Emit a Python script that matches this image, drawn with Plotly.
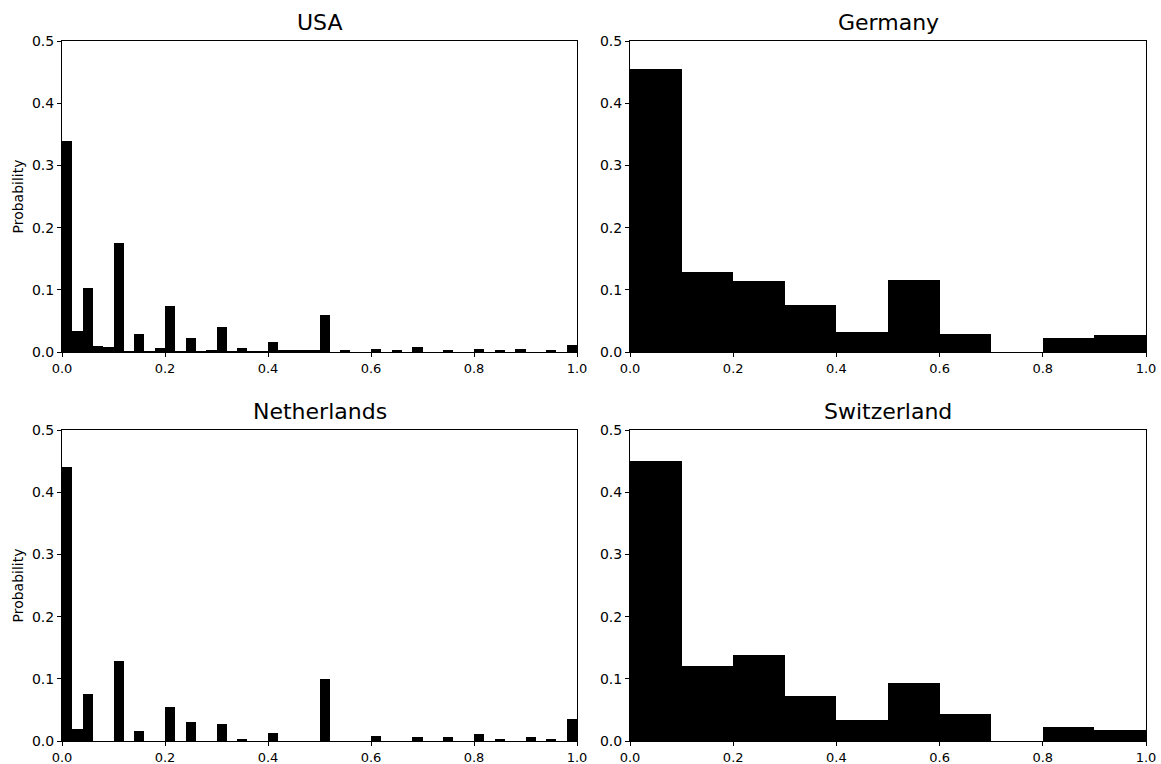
import plotly.graph_objects as go

# ---- data ----
fine_edges_start = [round(i * 0.02, 2) for i in range(50)]
coarse_edges_start = [round(i * 0.1, 1) for i in range(10)]

usa = [0.340, 0.033, 0.103, 0.010, 0.0085, 0.175, 0.001, 0.029, 0.001, 0.007,
       0.0735, 0.001, 0.022, 0.001, 0.003, 0.040, 0.001, 0.006, 0.001, 0.001,
       0.0156, 0.002, 0.002, 0.002, 0.002, 0.059, 0.0, 0.002, 0.0, 0.0,
       0.0055, 0.0, 0.002, 0.0, 0.0085, 0.0, 0.0, 0.003, 0.0, 0.0,
       0.0055, 0.0, 0.002, 0.0, 0.0055, 0.0, 0.0, 0.002, 0.0, 0.012]

netherlands = [0.440, 0.020, 0.076, 0.0, 0.0, 0.128, 0.0, 0.0166, 0.0, 0.0,
               0.055, 0.0, 0.031, 0.0, 0.0, 0.0275, 0.0, 0.004, 0.0, 0.0,
               0.013, 0.0, 0.0, 0.0, 0.0, 0.100, 0.0, 0.0, 0.0, 0.0,
               0.008, 0.0, 0.0, 0.0, 0.0065, 0.0, 0.0, 0.0065, 0.0, 0.0,
               0.011, 0.0, 0.002, 0.0, 0.0, 0.0065, 0.0, 0.002, 0.0, 0.036]

germany = [0.455, 0.1286, 0.114, 0.0756, 0.032, 0.116, 0.029, 0.0, 0.0225, 0.027]
switzerland = [0.450, 0.1206, 0.138, 0.072, 0.034, 0.093, 0.043, 0.0, 0.0225, 0.018]

titles = ["USA", "Germany", "Netherlands", "Switzerland"]
x_ticks = [0.0, 0.2, 0.4, 0.6, 0.8, 1.0]
y_ticks = [0.0, 0.1, 0.2, 0.3, 0.4, 0.5]

W, H = 1161, 764
FONT = "DejaVu Sans"

# panel pixel boxes (left, right, top, bottom)
boxes = [(62, 577, 41, 352), (630, 1146, 41, 352),
         (62, 577, 430, 741), (630, 1146, 430, 741)]

series = [(fine_edges_start, usa, 0.02), (coarse_edges_start, germany, 0.1),
          (fine_edges_start, netherlands, 0.02), (coarse_edges_start, switzerland, 0.1)]

fig = go.Figure()
layout = dict(width=W, height=H, margin=dict(l=0, r=0, t=0, b=0, autoexpand=False),
              paper_bgcolor="white", plot_bgcolor="white", showlegend=False,
              font=dict(family=FONT, size=14, color="black"), bargap=0)
annotations = []

for i, ((l, r, t, b), (starts, vals, w), title) in enumerate(zip(boxes, series, titles)):
    xa = "x" if i == 0 else f"x{i+1}"
    ya = "y" if i == 0 else f"y{i+1}"
    fig.add_trace(go.Bar(x=[s + w / 2 for s in starts], y=vals, width=w,
                         marker=dict(color="black", line=dict(width=0)),
                         xaxis=xa, yaxis=ya))
    xkey = "xaxis" if i == 0 else f"xaxis{i+1}"
    ykey = "yaxis" if i == 0 else f"yaxis{i+1}"
    common = dict(ticks="outside", ticklen=4, tickwidth=1, tickcolor="black",
                  showline=True, linecolor="black", linewidth=1, mirror=True,
                  showgrid=False, zeroline=False,
                  automargin=False, fixedrange=True)
    layout[xkey] = dict(domain=[l / W, r / W], range=[0, 1], anchor=ya,
                        tickvals=x_ticks, ticktext=[f"{v:.1f}" for v in x_ticks],
                        tickfont=dict(size=13), **common)
    layout[ykey] = dict(domain=[1 - b / H, 1 - t / H], range=[0, 0.5], anchor=xa,
                        tickvals=y_ticks, ticktext=[f"{v:.1f}" for v in y_ticks],
                        tickfont=dict(size=14), **common)
    annotations.append(dict(text=title, x=(l + r) / 2 / W, y=1 - (t - 4) / H,
                            xref="paper", yref="paper", xanchor="center", yanchor="bottom",
                            showarrow=False, font=dict(size=22, family=FONT)))
    if i % 2 == 0:
        annotations.append(dict(text="Probability", x=17 / W, y=1 - (t + b) / 2 / H,
                                xref="paper", yref="paper", xanchor="center", yanchor="middle",
                                textangle=-90, showarrow=False, font=dict(size=14, family=FONT)))

layout["annotations"] = annotations
fig.update_layout(**layout)
fig.write_html("out.html")
